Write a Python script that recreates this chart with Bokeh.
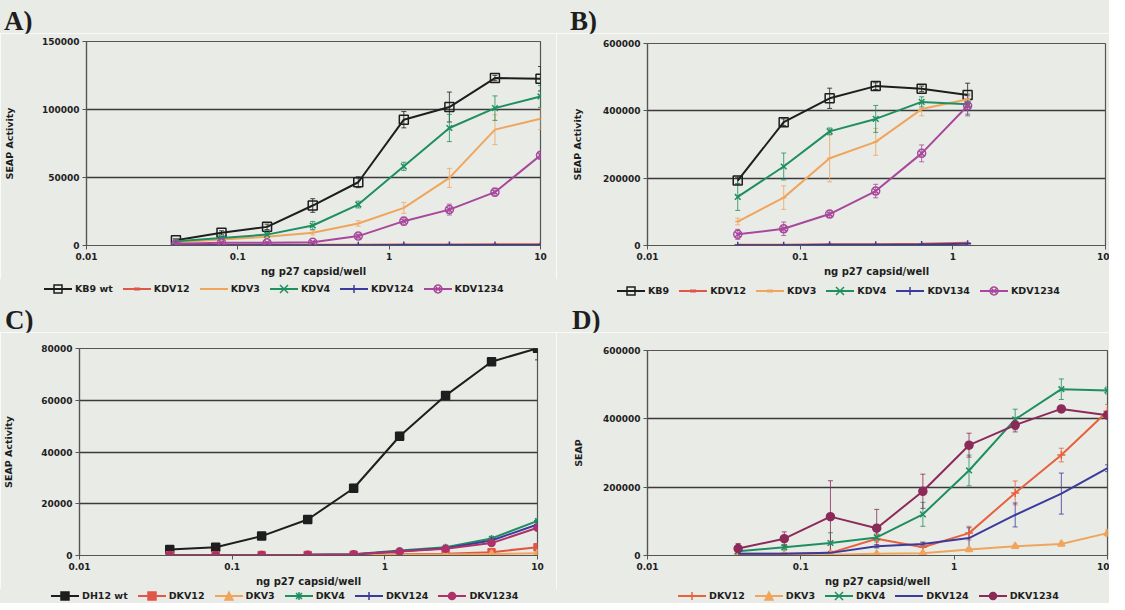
from bokeh.plotting import figure
from bokeh.models import (Range1d, FixedTicker, BasicTickFormatter, Div,
                          Whisker, ColumnDataSource, TeeHead)
from bokeh.layouts import column, row
from bokeh.embed import file_html
from bokeh.resources import INLINE

# ---------------- data ----------------
X9 = [0.039, 0.078, 0.156, 0.3125, 0.625, 1.25, 2.5, 5, 10]
X6 = [0.039, 0.078, 0.156, 0.3125, 0.625, 1.25]
X_TICKS = [0.01, 0.1, 1, 10]
X_TICK_LABELS = ["0.01", "0.1", "1", "10"]
X_LABEL = "ng p27 capsid/well"

# Panel A
A_KB9_WT = [3900, 9300, 13700, 29400, 46500, 92500, 101800, 123100, 122600]
A_KB9_WT_ERR = [1000, 1500, 2000, 5000, 4000, 6000, 11000, 2000, 9000]
A_KDV12 = [300, 400, 500, 600, 600, 700, 800, 900, 1000]
A_KDV3 = [2400, 4400, 6400, 9300, 16200, 27700, 49700, 85200, 93200]
A_KDV3_ERR = [500, 800, 1000, 1500, 2000, 4000, 7000, 11000, 8000]
A_KDV4 = [3200, 5600, 8000, 14700, 30100, 58200, 86400, 101000, 109600]
A_KDV4_ERR = [500, 1000, 1500, 3000, 2500, 3000, 10000, 9000, 8000]
A_KDV124 = [100, 150, 200, 200, 250, 300, 300, 350, 400]
A_KDV1234 = [1200, 2000, 2000, 2400, 6900, 17900, 26400, 39200, 66300]
A_KDV1234_ERR = [300, 500, 500, 800, 1500, 3000, 4000, 3000, 2500]

# Panel B
B_KB9 = [192900, 366200, 437300, 473400, 465600, 447100]
B_KB9_ERR = [10000, 10000, 30000, 10000, 8000, 35000]
B_KDV12 = [2000, 2000, 4000, 4000, 5000, 8000]
B_KDV3 = [71100, 142200, 259100, 307800, 405200, 434400]
B_KDV3_ERR = [10000, 35000, 70000, 40000, 20000, 15000]
B_KDV4 = [144200, 234700, 339000, 376000, 426600, 419800]
B_KDV4_ERR = [40000, 40000, 10000, 40000, 15000, 30000]
B_KDV134 = [1000, 1000, 2000, 2000, 3000, 5000]
B_KDV1234 = [33100, 49700, 93500, 161700, 273700, 415000]
B_KDV1234_ERR = [15000, 20000, 10000, 20000, 25000, 30000]

# Panel C
C_DH12_WT = [2300, 3200, 7500, 13900, 26000, 46100, 61800, 74900, 80100]
C_DH12_WT_ERR = [300, 400, 500, 800, 1500, 1500, 1000, 1000, 4500]
C_DKV12 = [100, 100, 150, 200, 300, 500, 700, 1300, 3200]
C_DKV3 = [50, 50, 100, 100, 150, 250, 400, 600, 900]
C_DKV4 = [100, 150, 200, 300, 500, 1900, 3200, 6600, 13400]
C_DKV124 = [100, 100, 150, 250, 400, 1600, 2800, 5800, 12000]
C_DKV1234 = [150, 150, 200, 300, 500, 1500, 2600, 4800, 10700]

# Panel D
D_DKV12 = [4800, 4800, 7700, 49200, 24100, 65500, 183100, 294000, 422200]
D_DKV12_ERR = [3000, 3000, 5000, 10000, 15000, 20000, 35000, 20000, 20000]
D_DKV3 = [1000, 1500, 2000, 4800, 6700, 17300, 27000, 33700, 65500]
D_DKV3_ERR = [1000, 1000, 1000, 1000, 1500, 3000, 4000, 5000, 10000]
D_DKV4 = [12500, 24100, 36600, 53000, 120500, 248900, 398200, 486700, 482900]
D_DKV4_ERR = [5000, 8000, 30000, 10000, 35000, 45000, 30000, 30000, 10000]
D_DKV124 = [4800, 4800, 7700, 27000, 33700, 51100, 118600, 181200, 255400]
D_DKV124_ERR = [2000, 2000, 3000, 5000, 5000, 30000, 35000, 60000, 10000]
D_DKV1234 = [20200, 49200, 113700, 80000, 188000, 322900, 381700, 429000, 410600]
D_DKV1234_ERR = [15000, 20000, 105000, 55000, 50000, 35000, 20000, 10000, 10000]

# ---------------- style ----------------
BG = "#e9ebe7"
TXT = "#1e1e1e"
FONT = "DejaVu Sans"
BLACK = "#1e1e1e"
RED = "#e0574a"
ORANGE = "#f0a55c"
GREEN = "#1f8f60"
BLUE = "#3b3b9c"
PURPLE = "#a8489c"
MAGENTA = "#b0306a"
RED_D = "#e8613e"
PLUM_D = "#8c2a5a"


def header_div(letter, width, height, pad_left, pad_top):
    html = (f'<div style="width:{width}px;height:{height}px;box-sizing:border-box;'
            f'background:{BG};padding-left:{pad_left}px;padding-top:{pad_top}px;'
            f"font-family:'Liberation Serif';font-weight:bold;font-size:27px;"
            f'line-height:27px;color:{TXT};white-space:nowrap">{letter}</div>')
    return Div(text=html, width=width, height=height, margin=0,
               styles={"background-color": BG})


def icon_svg(color, marker, fill):
    parts = [f'<line x1="0" y1="6" x2="28" y2="6" stroke="{color}" stroke-width="2"/>']
    f = color if fill else "none"
    s = f'stroke="{color}" stroke-width="1.5"'
    if marker == "square":
        parts.append(f'<rect x="10" y="2" width="8" height="8" fill="{f}" {s}/>')
    elif marker == "x":
        parts.append(f'<path d="M10 2 L18 10 M10 10 L18 2" {s}/>')
    elif marker == "cross":
        parts.append(f'<path d="M14 2 L14 10 M10 6 L18 6" {s}/>')
    elif marker == "asterisk":
        parts.append(f'<path d="M14 2 L14 10 M10 6 L18 6 M11 3 L17 9 M11 9 L17 3" {s}/>')
    elif marker == "circle_x":
        parts.append(f'<circle cx="14" cy="6" r="4" fill="none" {s}/>'
                     f'<path d="M11 3 L17 9 M11 9 L17 3" {s}/>')
    elif marker == "circle":
        parts.append(f'<circle cx="14" cy="6" r="3.5" fill="{f}" {s}/>')
    elif marker == "triangle":
        parts.append(f'<polygon points="14,2 18,10 10,10" fill="{f}" {s}/>')
    elif marker == "dash":
        parts.append(f'<path d="M11 6 L17 6" stroke="{color}" stroke-width="3"/>')
    return ('<svg width="28" height="12" viewBox="0 0 28 12" '
            'style="display:block;flex:none">' + "".join(parts) + "</svg>")


def legend_div(width, height, pad_left, pad_top, line_h, series):
    items = []
    for name, ys, errs, color, marker, msize, mfill in series:
        items.append('<span style="display:inline-flex;align-items:center;margin-right:10px">'
                     + icon_svg(color, marker, mfill)
                     + f'<span style="margin-left:3px">{name}</span></span>')
    html = (f'<div style="width:{width}px;height:{height}px;box-sizing:border-box;'
            f'background:{BG};padding-left:{pad_left}px;padding-top:{pad_top}px;'
            f"font-family:'{FONT}';font-weight:bold;font-size:9.5px;color:{TXT};"
            f'white-space:nowrap;overflow:hidden">'
            f'<div style="display:flex;align-items:center;height:{line_h}px">'
            + "".join(items) + "</div></div>")
    return Div(text=html, width=width, height=height, margin=0,
               styles={"background-color": BG})


def main_fig(width, height, borders, ymax, ystep, ylabel, ylabel_standoff, xs, series):
    l, r, t, b = borders
    p = figure(width=width, height=height, x_axis_type="log",
               x_range=Range1d(0.01, 10), y_range=Range1d(0, ymax),
               output_backend="svg", toolbar_location=None,
               min_border_left=l, min_border_right=r, min_border_top=t, min_border_bottom=b,
               background_fill_color=BG, border_fill_color=BG)
    p.outline_line_color = "#555555"
    p.outline_line_width = 1.2
    p.xgrid.visible = False
    p.ygrid.grid_line_color = "#3a3a3a"
    p.ygrid.grid_line_width = 1.4
    p.ygrid.ticker = FixedTicker(ticks=list(range(0, ymax + 1, ystep)))

    xa = p.xaxis[0]
    xa.ticker = FixedTicker(ticks=X_TICKS)
    xa.major_label_overrides = {t_: s for t_, s in zip(X_TICKS, X_TICK_LABELS)}
    xa.axis_label = X_LABEL
    ya = p.yaxis[0]
    ya.ticker = FixedTicker(ticks=list(range(0, ymax + 1, ystep)))
    ya.formatter = BasicTickFormatter(use_scientific=False)
    ya.axis_label = ylabel
    for ax in (xa, ya):
        ax.axis_line_color = "#555555"
        ax.axis_line_width = 1.2
        ax.major_tick_line_color = "#555555"
        ax.major_tick_out = 4
        ax.major_tick_in = 0
        ax.minor_tick_out = 0
        ax.minor_tick_in = 0
        ax.major_label_text_font = FONT
        ax.major_label_text_font_style = "bold"
        ax.major_label_text_font_size = "9px"
        ax.major_label_text_color = TXT
        ax.axis_label_text_font = FONT
        ax.axis_label_text_font_style = "bold"
        ax.axis_label_text_color = TXT
    xa.major_label_standoff = 3
    xa.axis_label_standoff = 3
    xa.axis_label_text_font_size = "10px"
    ya.major_label_standoff = 3
    ya.axis_label_standoff = ylabel_standoff
    ya.axis_label_text_font_size = "9.5px"

    for name, ys, errs, color, marker, msize, mfill in series:
        p.line(xs, ys, line_color=color, line_width=2)
        if marker is not None:
            p.scatter(xs, ys, marker=marker, size=msize, line_color=color,
                      line_width=1.5, fill_color=(color if mfill else None))
        if errs is not None:
            src = ColumnDataSource(dict(base=xs,
                                        upper=[y + e for y, e in zip(ys, errs)],
                                        lower=[y - e for y, e in zip(ys, errs)]))
            p.add_layout(Whisker(source=src, base="base", upper="upper", lower="lower",
                                 line_color=color, line_width=1, line_alpha=0.8,
                                 upper_head=TeeHead(size=5, line_color=color, line_alpha=0.8),
                                 lower_head=TeeHead(size=5, line_color=color, line_alpha=0.8)))
    return p


SER_A = [
    ("KB9 wt", A_KB9_WT, A_KB9_WT_ERR, BLACK, "square", 9, False),
    ("KDV12", A_KDV12, None, RED, "dash", 6, False),
    ("KDV3", A_KDV3, A_KDV3_ERR, ORANGE, None, 0, False),
    ("KDV4", A_KDV4, A_KDV4_ERR, GREEN, "x", 8, False),
    ("KDV124", A_KDV124, None, BLUE, "cross", 7, False),
    ("KDV1234", A_KDV1234, A_KDV1234_ERR, PURPLE, "circle_x", 8, False),
]
SER_B = [
    ("KB9", B_KB9, B_KB9_ERR, BLACK, "square", 9, False),
    ("KDV12", B_KDV12, None, RED, "dash", 6, False),
    ("KDV3", B_KDV3, B_KDV3_ERR, ORANGE, "dash", 5, False),
    ("KDV4", B_KDV4, B_KDV4_ERR, GREEN, "x", 8, False),
    ("KDV134", B_KDV134, None, BLUE, "cross", 7, False),
    ("KDV1234", B_KDV1234, B_KDV1234_ERR, PURPLE, "circle_x", 8, False),
]
SER_C = [
    ("DH12 wt", C_DH12_WT, C_DH12_WT_ERR, BLACK, "square", 8, True),
    ("DKV12", C_DKV12, None, RED, "square", 7, True),
    ("DKV3", C_DKV3, None, ORANGE, "triangle", 7, True),
    ("DKV4", C_DKV4, None, GREEN, "asterisk", 7, False),
    ("DKV124", C_DKV124, None, BLUE, "cross", 7, False),
    ("DKV1234", C_DKV1234, None, MAGENTA, "circle", 7, True),
]
SER_D = [
    ("DKV12", D_DKV12, D_DKV12_ERR, RED_D, "cross", 8, False),
    ("DKV3", D_DKV3, D_DKV3_ERR, ORANGE, "triangle", 7, True),
    ("DKV4", D_DKV4, D_DKV4_ERR, GREEN, "x", 8, False),
    ("DKV124", D_DKV124, D_DKV124_ERR, BLUE, None, 0, False),
    ("DKV1234", D_DKV1234, D_DKV1234_ERR, PLUM_D, "circle", 8, True),
]

colA = column(
    header_div("A)", 556, 33, 4, 8),
    main_fig(556, 246, (81, 16, 8, 34), 150000, 50000, "SEAP Activity", 24, X9, SER_A),
    legend_div(556, 25, 44, 0, 20, SER_A), spacing=0)
colB = column(
    header_div("B)", 553, 33, 14, 8),
    main_fig(553, 246, (91, 4, 10, 32), 600000, 200000, "SEAP Activity", 17, X6, SER_B),
    legend_div(553, 25, 61, 2, 20, SER_B), spacing=0)
colC = column(
    header_div("C)", 556, 28, 5, 3),
    main_fig(556, 257, (79, 19, 16, 32), 80000, 20000, "SEAP Activity", 24, X9, SER_C),
    legend_div(556, 14, 51, 0, 14, SER_C), spacing=0)
colD = column(
    header_div("D)", 553, 28, 16, 3),
    main_fig(553, 257, (91, 2, 18, 30), 600000, 200000, "SEAP", 16, X9, SER_D),
    legend_div(553, 14, 122, 0, 14, SER_D), spacing=0)

layout = column(row(colA, colB, spacing=0), row(colC, colD, spacing=0), spacing=0)
open("out.html", "w").write(file_html(layout, INLINE))
